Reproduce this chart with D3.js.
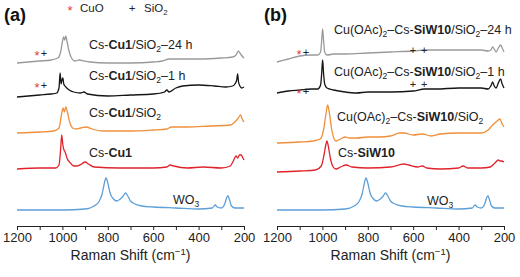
<!DOCTYPE html>
<html>
<head>
<meta charset="utf-8">
<script src="https://cdn.jsdelivr.net/npm/d3@7"></script>
<style>
  body { margin: 0; background: #fff; }
  svg { font-family: "Liberation Sans", Arial, sans-serif; }
</style>
</head>
<body>
<svg id="chart" width="520" height="277"></svg>
<script>
// spectra: [Raman shift (cm-1), stacked intensity (a.u.)]
var cu1Sio2H24 = [[1200,163],[1150,164],[1100,165],[1050,166],[1020,168],[1008,174],[1000,184],[995,189],[990,186],[985,190],[980,185],[972,176],[960,168],[945,165],[925,166],[905,165],[880,164],[800,163],[700,163],[600,164],[560,165],[530,167],[480,167],[400,167],[300,168],[250,169],[235,171],[225,175],[218,173],[212,171],[200,168]];
var cu1Sio2H1 = [[1200,129],[1150,130],[1100,131],[1050,132],[1025,133],[1015,138],[1010,153],[1006,142],[1002,146],[998,148],[994,142],[985,139],[970,136],[950,134],[920,133],[905,134],[890,132],[800,130],[700,131],[600,132],[550,134],[540,136],[530,134],[500,138],[470,140],[400,141],[330,140],[280,139],[250,140],[240,142],[232,146],[228,152],[224,144],[218,140],[210,138],[200,139]];
var cu1Sio2 = [[1200,93],[1100,94],[1040,95],[1015,98],[1005,110],[997,118],[991,114],[985,119],[978,114],[968,104],[955,98],[940,97],[920,98],[895,99],[870,97],[820,95],[700,95],[600,96],[540,97],[520,99],[450,99],[350,100],[260,101],[240,104],[225,108],[215,111],[208,107],[200,104]];
var cu1 = [[1200,57],[1100,58],[1030,58],[1015,61],[1008,76],[1003,91],[998,81],[993,76],[988,74],[980,68],[965,63],[950,60],[935,60],[915,62],[900,64],[885,62],[860,59],[750,58],[600,58],[540,59],[525,61],[510,60],[450,58],[380,59],[300,58],[260,60],[245,66],[235,70],[228,68],[220,71],[212,71],[205,68],[200,66]];
var wo3 = [[1200,16],[1000,16],[900,17],[860,20],[840,24],[825,32],[815,43],[808,48],[800,43],[790,33],[775,27],[760,25],[745,27],[732,30],[722,33],[712,30],[700,25],[680,22],[650,20],[600,19],[500,18],[400,17],[340,18],[327,21],[318,19],[300,18],[285,22],[275,29],[270,30],[265,27],[255,20],[240,18],[220,18],[200,18]];

var siw10Sio2H24 = [[1200,164],[1150,167],[1100,170],[1050,171],[1020,171],[1008,174],[1003,186],[999,197],[995,186],[990,174],[980,171],[950,172],[900,172],[800,173],[700,174],[600,175],[550,176],[500,176],[400,176],[300,176],[270,175],[258,176],[250,179],[243,177],[235,174],[225,178],[215,181],[208,178],[200,174]];
var siw10Sio2H1 = [[1200,133],[1150,135],[1100,136],[1050,137],[1020,137],[1008,141],[1003,153],[999,166],[995,153],[990,142],[980,138],[950,136],[900,134],[850,133],[800,134],[700,134],[600,135],[550,137],[500,137],[400,138],[300,138],[270,137],[258,140],[250,144],[243,140],[235,138],[225,143],[215,147],[208,142],[200,138]];
var siw10Sio2 = [[1200,83],[1100,84],[1040,85],[1010,87],[995,96],[985,111],[977,121],[970,114],[960,98],[950,88],[940,85],[920,87],[900,89],[880,88],[850,88],[800,89],[750,89],[700,90],[660,93],[640,93],[600,91],[560,92],[520,90],[480,92],[400,93],[350,93],[300,93],[270,96],[250,101],[230,105],[218,107],[208,102],[200,99]];
var siw10 = [[1200,54],[1100,55],[1030,56],[1005,60],[993,71],[985,81],[980,85],[975,81],[965,68],[955,60],[940,57],[920,59],[895,61],[870,59],[800,58],[700,59],[640,62],[620,61],[580,59],[560,60],[540,58],[480,57],[400,58],[380,60],[360,58],[300,58],[260,59],[240,63],[225,66],[218,65],[210,65],[200,64]];

// label text pieces: [text, style] where style b = bold, s = subscript
var labelsA = [
    [['Cs-'], ['Cu1', 'b'], ['/SiO'], ['2', 's'], ['\u201324 h']],
    [['Cs-'], ['Cu1', 'b'], ['/SiO'], ['2', 's'], ['\u20131 h']],
    [['Cs-'], ['Cu1', 'b'], ['/SiO'], ['2', 's']],
    [['Cs-'], ['Cu1', 'b']],
    [['WO'], ['3', 's']]
];
var labelsB = [
    [['Cu(OAc)'], ['2', 's'], ['\u2013Cs-'], ['SiW10', 'b'], ['/SiO'], ['2', 's'], ['\u201324 h']],
    [['Cu(OAc)'], ['2', 's'], ['\u2013Cs-'], ['SiW10', 'b'], ['/SiO'], ['2', 's'], ['\u20131 h']],
    [['Cu(OAc)'], ['2', 's'], ['\u2013Cs-'], ['SiW10', 'b'], ['/SiO'], ['2', 's']],
    [['Cs-'], ['SiW10', 'b']],
    [['WO'], ['3', 's']]
];
// label anchors [shift, intensity]
var labelPosA = [[883,177],[883,146],[883,109],[883,69],[513,22]];
var labelPosB = [[949,192],[949,150],[936,105],[931,69],[539,21]];

// peak markers [shift, intensity, kind]
var marksA = [[1112,173,'*'],[1081,173,'+'],[1112,141,'*'],[1081,141,'+']];
var marksB = [[1103,174,'*'],[1072,174,'+'],[601,176,'+'],[552,176,'+'],
              [1103,135,'*'],[1072,135,'+'],[601,142,'+'],[552,142,'+']];

var colors = ['#9a9a9a', '#151515', '#ef8f3b', '#e0232b', '#5d9fd8'];
var starColor = '#e33b3b';
var tickValues = [1200,1100,1000,900,800,700,600,500,400,300,200];

var svg = d3.select('#chart');
var yScale = d3.scaleLinear().domain([0, 200]).range([226, 26]);

function addRich(sel, parts, size) {
    parts.forEach(function (p) {
        var t = sel.append('tspan').text(p[0]);
        if (p[1] === 'b') t.attr('font-weight', 'bold');
        if (p[1] === 's') {
            t.attr('font-size', size * 0.68).attr('dy', 3);
        }
        // bring baseline back after a subscript
        if (sel.attr('data-sub') === '1' && p[1] !== 's') t.attr('dy', -3);
        sel.attr('data-sub', p[1] === 's' ? '1' : '0');
    });
}

function drawPanel(x0, x1, series, labels, labelPos, marks, tag) {
    var xScale = d3.scaleLinear().domain([1200, 200]).range([x0, x1]);
    var g = svg.append('g');

    var line = d3.line()
        .x(function (d) { return xScale(d[0]); })
        .y(function (d) { return yScale(d[1]); })
        .curve(d3.curveMonotoneX);

    series.forEach(function (s, i) {
        g.append('path')
            .datum(s)
            .attr('fill', 'none')
            .attr('stroke', colors[i])
            .attr('stroke-width', 1.3)
            .attr('stroke-linejoin', 'round')
            .attr('d', line);
    });

    labels.forEach(function (l, i) {
        var t = g.append('text')
            .attr('x', xScale(labelPos[i][0]))
            .attr('y', yScale(labelPos[i][1]))
            .attr('font-size', 12.5)
            .attr('fill', '#222');
        addRich(t, l, 12.5);
    });

    marks.forEach(function (m) {
        g.append('text')
            .attr('x', xScale(m[0]))
            .attr('y', yScale(m[1]))
            .attr('text-anchor', 'middle')
            .attr('font-size', m[2] === '*' ? 13 : 11)
            .attr('dy', m[2] === '*' ? '0.55em' : '0.35em')
            .attr('fill', m[2] === '*' ? starColor : '#222')
            .text(m[2]);
    });

    var xAxis = d3.axisBottom(xScale)
        .tickValues(tickValues)
        .tickSize(4)
        .tickSizeOuter(0)
        .tickPadding(3)
        .tickFormat(function (d) { return d % 200 === 0 ? d : ''; });

    var ax = g.append('g')
        .attr('transform', 'translate(0,226)')
        .call(xAxis);
    ax.select('.domain').attr('stroke', '#222');
    ax.selectAll('.tick line').attr('stroke', '#222');
    ax.selectAll('.tick text')
        .attr('font-size', 13)
        .attr('font-family', '"Liberation Sans", Arial, sans-serif')
        .attr('fill', '#222');

    var title = g.append('text')
        .attr('x', (x0 + x1) / 2)
        .attr('y', 260)
        .attr('text-anchor', 'middle')
        .attr('font-size', 14)
        .attr('fill', '#222');
    title.append('tspan').text('Raman Shift (cm');
    title.append('tspan').text('\u22121').attr('font-size', 9.5).attr('dy', -5);
    title.append('tspan').text(')').attr('dy', 5);

    g.append('text')
        .attr('x', x0 - 13)
        .attr('y', 21)
        .attr('font-size', 18)
        .attr('font-weight', 'bold')
        .attr('fill', '#111')
        .text(tag);
}

drawPanel(17, 244, [cu1Sio2H24, cu1Sio2H1, cu1Sio2, cu1, wo3], labelsA, labelPosA, marksA, '(a)');
drawPanel(277, 504, [siw10Sio2H24, siw10Sio2H1, siw10Sio2, siw10, wo3], labelsB, labelPosB, marksB, '(b)');

// legend on top
var legend = svg.append('g').attr('font-size', 11.5).attr('fill', '#222');
legend.append('text').attr('x', 70).attr('y', 15).attr('text-anchor', 'middle')
    .attr('font-size', 13).attr('fill', starColor).text('*');
legend.append('text').attr('x', 80).attr('y', 12).text('CuO');
legend.append('text').attr('x', 132).attr('y', 12).attr('text-anchor', 'middle').text('+');
var sio = legend.append('text').attr('x', 144).attr('y', 12);
addRich(sio, [['SiO'], ['2', 's']], 11.5);
</script>
</body>
</html>
